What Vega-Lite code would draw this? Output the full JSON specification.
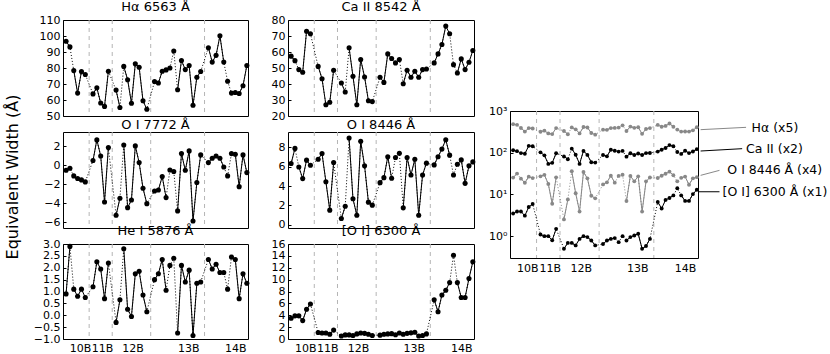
{
  "$schema": "https://vega.github.io/schema/vega-lite/v6.json",
  "background": "white",
  "padding": {"left": 4, "top": 0, "right": 0, "bottom": 0},
  "title": {"text": "Equivalent Width (Å)", "orient": "left", "anchor": "middle", "fontSize": 16, "fontWeight": "normal", "font": "DejaVu Sans", "offset": 12, "color": "black"},
  "datasets": {
    "vl": [{"i": 6}, {"i": 12}, {"i": 22}, {"i": 36}],
    "ann": [
      {"s": "H5", "x": 47.97, "x2": 59.6, "y": 357, "y2": 406, "t": "Hα (x5)", "tx": 61.0, "ty": 392},
      {"s": "C2", "x": 47.97, "x2": 58.6, "y": 110, "y2": 125, "t": "Ca II (x2)", "tx": 59.6, "ty": 123},
      {"s": "O84", "x": 47.97, "x2": 52.8, "y": 28.7, "y2": 37.8, "t": "O I 8446 Å (x4)", "tx": 54.8, "ty": 39.1},
      {"s": "O6", "x": 47.5, "x2": 52.8, "y": 11.6, "y2": 11.6, "t": "[O I] 6300 Å (x1)", "tx": 53.6, "ty": 11.2}
    ],
    "main": [
      {"i": 0, "r": "a", "Ha": 96.7, "Ca": 57.4, "O7": -0.53, "O8": 6.33, "He": 0.9, "O6": 3.5, "H5": 483.5, "C2": 114.8, "O84": 25.32},
      {"i": 1, "r": "a", "Ha": 93.2, "Ca": 54.6, "O7": -0.32, "O8": 7.9, "He": 2.9, "O6": 3.9, "H5": 466, "C2": 109.2, "O84": 31.6},
      {"i": 2, "r": "b", "Ha": 78.4, "Ca": 49, "O7": -1.12, "O8": 5.98, "He": 1.1, "O6": 3.9, "H5": 392, "C2": 98, "O84": 23.92},
      {"i": 3, "r": "b", "Ha": 64.3, "Ca": 47.3, "O7": -1.4, "O8": 4.77, "He": 0.8, "O6": 3.1, "H5": 321.5, "C2": 94.6, "O84": 19.08},
      {"i": 4, "r": "b", "Ha": 77.8, "Ca": 73, "O7": -1.54, "O8": 6.68, "He": 1.1, "O6": 5.0, "H5": 389, "C2": 146, "O84": 26.72},
      {"i": 5, "r": "b", "Ha": 75.9, "Ca": 71.4, "O7": -1.75, "O8": 6.16, "He": 0.75, "O6": 5.9, "H5": 379.5, "C2": 142.8, "O84": 24.64},
      {"i": 7, "r": "c", "Ha": 63.8, "Ca": 51, "O7": 0.5, "O8": 6.78, "He": 1.2, "O6": 1.1, "H5": 319, "C2": 102, "O84": 27.12},
      {"i": 8, "r": "c", "Ha": 67.6, "Ca": 43.3, "O7": 2.67, "O8": 7.37, "He": 2.25, "O6": 1.0, "H5": 338, "C2": 86.6, "O84": 29.48},
      {"i": 9, "r": "c", "Ha": 58.1, "Ca": 27, "O7": 0.98, "O8": 4.45, "He": 1.95, "O6": 1.0, "H5": 290.5, "C2": 54, "O84": 17.8},
      {"i": 10, "r": "c", "Ha": 56, "Ca": 28.6, "O7": -3.86, "O8": 1.5, "He": 0.7, "O6": 0.8, "H5": 280, "C2": 57.2, "O84": 6},
      {"i": 11, "r": "c", "Ha": 78, "Ca": 48.6, "O7": 1.86, "O8": 6.43, "He": 2.2, "O6": 1.5, "H5": 390, "C2": 97.2, "O84": 25.72},
      {"i": 13, "r": "d", "Ha": 66.2, "Ca": 40.6, "O7": -5.26, "O8": 0.63, "He": -0.3, "O6": 0.5, "H5": 331, "C2": 81.2, "O84": 2.52},
      {"i": 14, "r": "d", "Ha": 55.3, "Ca": 35, "O7": -3.47, "O8": 1.9, "He": 0.65, "O6": 0.69, "H5": 276.5, "C2": 70, "O84": 7.6},
      {"i": 15, "r": "e", "Ha": 81, "Ca": 62.6, "O7": 2.14, "O8": 8.97, "He": 2.8, "O6": 0.69, "H5": 405, "C2": 125.2, "O84": 35.88},
      {"i": 16, "r": "e", "Ha": 72.7, "Ca": 44.8, "O7": -4.46, "O8": 2.68, "He": 0.25, "O6": 0.6, "H5": 363.5, "C2": 89.6, "O84": 10.72},
      {"i": 17, "r": "e", "Ha": 58, "Ca": 27, "O7": -3.65, "O8": 0.97, "He": -0.05, "O6": 0.86, "H5": 290, "C2": 54, "O84": 3.88},
      {"i": 18, "r": "e", "Ha": 82.6, "Ca": 55.3, "O7": 2.04, "O8": 8.63, "He": 1.75, "O6": 1.0, "H5": 413, "C2": 110.6, "O84": 34.52},
      {"i": 19, "r": "e", "Ha": 80.5, "Ca": 44.4, "O7": 0.28, "O8": 6.09, "He": 1.85, "O6": 0.95, "H5": 402.5, "C2": 88.8, "O84": 24.36},
      {"i": 20, "r": "e", "Ha": 59.5, "Ca": 29.5, "O7": -2.42, "O8": 2.33, "He": 0.85, "O6": 0.79, "H5": 297.5, "C2": 59, "O84": 9.32},
      {"i": 21, "r": "e", "Ha": 54.2, "Ca": 29, "O7": -4.04, "O8": 2.02, "He": 0.15, "O6": 0.6, "H5": 271, "C2": 58, "O84": 8.08},
      {"i": 23, "r": "f", "Ha": 71.5, "Ca": 44.2, "O7": -2.7, "O8": 4.35, "He": 1.5, "O6": 0.65, "H5": 357.5, "C2": 88.4, "O84": 17.4},
      {"i": 24, "r": "f", "Ha": 70.6, "Ca": 41, "O7": -2.6, "O8": 4.87, "He": 1.75, "O6": 0.79, "H5": 353, "C2": 82, "O84": 19.48},
      {"i": 25, "r": "f", "Ha": 78, "Ca": 58.8, "O7": -1.19, "O8": 7.03, "He": 2.35, "O6": 0.86, "H5": 390, "C2": 117.6, "O84": 28.12},
      {"i": 26, "r": "f", "Ha": 78.8, "Ca": 55.9, "O7": -3.4, "O8": 4.8, "He": 1.05, "O6": 0.9, "H5": 394, "C2": 111.8, "O84": 19.2},
      {"i": 27, "r": "g", "Ha": 80, "Ca": 53.2, "O7": -0.5, "O8": 6.96, "He": 2.1, "O6": 0.72, "H5": 400, "C2": 106.4, "O84": 27.84},
      {"i": 28, "r": "h", "Ha": 90.6, "Ca": 55.3, "O7": -0.65, "O8": 7.4, "He": 2.4, "O6": 1.0, "H5": 453, "C2": 110.6, "O84": 29.6},
      {"i": 29, "r": "i", "Ha": 66.4, "Ca": 40.2, "O7": -4.8, "O8": 1.74, "He": -0.75, "O6": 0.79, "H5": 332, "C2": 80.4, "O84": 6.96},
      {"i": 30, "r": "i", "Ha": 84.7, "Ca": 48.6, "O7": 1.23, "O8": 6.96, "He": 2.1, "O6": 0.95, "H5": 423.5, "C2": 97.2, "O84": 27.84},
      {"i": 31, "r": "i", "Ha": 79, "Ca": 44.2, "O7": -0.53, "O8": 5.15, "He": 1.4, "O6": 1.04, "H5": 395, "C2": 88.4, "O84": 20.6},
      {"i": 32, "r": "i", "Ha": 81.6, "Ca": 48, "O7": 1.51, "O8": 6.78, "He": 1.9, "O6": 1.14, "H5": 408, "C2": 96, "O84": 27.12},
      {"i": 33, "r": "i", "Ha": 56.7, "Ca": 44.2, "O7": -5.86, "O8": 0.97, "He": -0.85, "O6": 0.5, "H5": 283.5, "C2": 88.4, "O84": 3.88},
      {"i": 34, "r": "i", "Ha": 74.2, "Ca": 49, "O7": -1.82, "O8": 5.15, "He": 1.35, "O6": 0.58, "H5": 371, "C2": 98, "O84": 20.6},
      {"i": 35, "r": "i", "Ha": 77.8, "Ca": 49.4, "O7": 1.09, "O8": 6.37, "He": 1.4, "O6": 0.86, "H5": 389, "C2": 98.8, "O84": 25.48},
      {"i": 37, "r": "j", "Ha": 92.7, "Ca": 53.2, "O7": 0.28, "O8": 6.19, "He": 2.35, "O6": 6.6, "H5": 463.5, "C2": 106.4, "O84": 24.76},
      {"i": 38, "r": "j", "Ha": 83.7, "Ca": 58.8, "O7": 0.74, "O8": 7.03, "He": 1.95, "O6": 4.6, "H5": 418.5, "C2": 117.6, "O84": 28.12},
      {"i": 39, "r": "j", "Ha": 87.9, "Ca": 64.7, "O7": 0.98, "O8": 7.83, "He": 2.15, "O6": 7.4, "H5": 439.5, "C2": 129.4, "O84": 31.32},
      {"i": 40, "r": "j", "Ha": 100.1, "Ca": 76.2, "O7": 0.74, "O8": 8.8, "He": 1.8, "O6": 8.2, "H5": 500.5, "C2": 152.4, "O84": 35.2},
      {"i": 41, "r": "j", "Ha": 83.7, "Ca": 71.4, "O7": -0.18, "O8": 7.2, "He": 1.8, "O6": 9.5, "H5": 418.5, "C2": 142.8, "O84": 28.8},
      {"i": 42, "r": "k", "Ha": 71.7, "Ca": 52.1, "O7": -1.12, "O8": 5.15, "He": 1.1, "O6": 14.1, "H5": 358.5, "C2": 104.2, "O84": 20.6},
      {"i": 43, "r": "l", "Ha": 64.3, "Ca": 46.9, "O7": 1.23, "O8": 6.26, "He": 2.45, "O6": 9.5, "H5": 321.5, "C2": 93.8, "O84": 25.04},
      {"i": 44, "r": "l", "Ha": 64.7, "Ca": 55.7, "O7": 1.16, "O8": 6.71, "He": 2.35, "O6": 7.0, "H5": 323.5, "C2": 111.4, "O84": 26.84},
      {"i": 45, "r": "l", "Ha": 64.1, "Ca": 49, "O7": -2.25, "O8": 4.28, "He": 0.7, "O6": 7.0, "H5": 320.5, "C2": 98, "O84": 17.12},
      {"i": 46, "r": "l", "Ha": 68.9, "Ca": 53.6, "O7": 1.09, "O8": 6.09, "He": 1.75, "O6": 10.2, "H5": 344.5, "C2": 107.2, "O84": 24.36},
      {"i": 47, "r": "l", "Ha": 81.6, "Ca": 60.9, "O7": -0.77, "O8": 6.5, "He": 1.35, "O6": 13.0, "H5": 408, "C2": 121.8, "O84": 26}
    ]
  },
  "hconcat": [
    {
      "concat": [
        {
          "width": 185, "height": 96, "title": {"text": "Hα 6563 Å", "fontWeight": "normal", "offset": 0},
          "layer": [
            {"data": {"name": "vl"}, "mark": {"type": "rule", "color": "#b5b5b5", "strokeDash": [4, 4], "strokeWidth": 1}, "encoding": {"x": {"field": "i", "type": "quantitative", "scale": {"domain": [-0.8, 47.3], "nice": false, "zero": false}, "axis": null}}},
            {"data": {"name": "main"}, "mark": {"type": "line", "color": "black", "strokeWidth": 1, "strokeDash": [1, 2]}, "encoding": {"x": {"field": "i", "type": "quantitative", "axis": null}, "y": {"field": "Ha", "type": "quantitative", "title": null, "scale": {"domain": [50, 110], "nice": false, "zero": false}, "axis": {"values": [50, 60, 70, 80, 90, 100, 110], "labelOverlap": false}}, "order": {"field": "i"}}},
            {"data": {"name": "main"}, "mark": {"type": "line", "color": "black", "strokeWidth": 1}, "encoding": {"x": {"field": "i", "type": "quantitative", "axis": null}, "y": {"field": "Ha", "type": "quantitative", "axis": {"values": [50, 60, 70, 80, 90, 100, 110], "labelOverlap": false}}, "detail": {"field": "r"}, "order": {"field": "i"}}},
            {"data": {"name": "main"}, "mark": {"type": "circle", "color": "black", "size": 26, "opacity": 1}, "encoding": {"x": {"field": "i", "type": "quantitative", "axis": null}, "y": {"field": "Ha", "type": "quantitative", "axis": {"values": [50, 60, 70, 80, 90, 100, 110], "labelOverlap": false}}}}
          ]
        },
        {
          "width": 186, "height": 96, "title": {"text": "Ca II 8542 Å", "fontWeight": "normal", "offset": 0},
          "layer": [
            {"data": {"name": "vl"}, "mark": {"type": "rule", "color": "#b5b5b5", "strokeDash": [4, 4], "strokeWidth": 1}, "encoding": {"x": {"field": "i", "type": "quantitative", "scale": {"domain": [-0.8, 47.3], "nice": false, "zero": false}, "axis": null}}},
            {"data": {"name": "main"}, "mark": {"type": "line", "color": "black", "strokeWidth": 1, "strokeDash": [1, 2]}, "encoding": {"x": {"field": "i", "type": "quantitative", "axis": null}, "y": {"field": "Ca", "type": "quantitative", "title": null, "scale": {"domain": [20, 80], "nice": false, "zero": false}, "axis": {"values": [20, 30, 40, 50, 60, 70, 80], "labelOverlap": false}}, "order": {"field": "i"}}},
            {"data": {"name": "main"}, "mark": {"type": "line", "color": "black", "strokeWidth": 1}, "encoding": {"x": {"field": "i", "type": "quantitative", "axis": null}, "y": {"field": "Ca", "type": "quantitative", "axis": {"values": [20, 30, 40, 50, 60, 70, 80], "labelOverlap": false}}, "detail": {"field": "r"}, "order": {"field": "i"}}},
            {"data": {"name": "main"}, "mark": {"type": "circle", "color": "black", "size": 26, "opacity": 1}, "encoding": {"x": {"field": "i", "type": "quantitative", "axis": null}, "y": {"field": "Ca", "type": "quantitative", "axis": {"values": [20, 30, 40, 50, 60, 70, 80], "labelOverlap": false}}}}
          ]
        },
        {
          "width": 185, "height": 96, "title": {"text": "O I 7772 Å", "fontWeight": "normal", "offset": 0},
          "layer": [
            {"data": {"name": "vl"}, "mark": {"type": "rule", "color": "#b5b5b5", "strokeDash": [4, 4], "strokeWidth": 1}, "encoding": {"x": {"field": "i", "type": "quantitative", "scale": {"domain": [-0.8, 47.3], "nice": false, "zero": false}, "axis": null}}},
            {"data": {"name": "main"}, "mark": {"type": "line", "color": "black", "strokeWidth": 1, "strokeDash": [1, 2]}, "encoding": {"x": {"field": "i", "type": "quantitative", "axis": null}, "y": {"field": "O7", "type": "quantitative", "title": null, "scale": {"domain": [-6.6, 3.5], "nice": false, "zero": false}, "axis": {"values": [-6, -4, -2, 0, 2], "labelOverlap": false}}, "order": {"field": "i"}}},
            {"data": {"name": "main"}, "mark": {"type": "line", "color": "black", "strokeWidth": 1}, "encoding": {"x": {"field": "i", "type": "quantitative", "axis": null}, "y": {"field": "O7", "type": "quantitative", "axis": {"values": [-6, -4, -2, 0, 2], "labelOverlap": false}}, "detail": {"field": "r"}, "order": {"field": "i"}}},
            {"data": {"name": "main"}, "mark": {"type": "circle", "color": "black", "size": 26, "opacity": 1}, "encoding": {"x": {"field": "i", "type": "quantitative", "axis": null}, "y": {"field": "O7", "type": "quantitative", "axis": {"values": [-6, -4, -2, 0, 2], "labelOverlap": false}}}}
          ]
        },
        {
          "width": 186, "height": 96, "title": {"text": "O I 8446 Å", "fontWeight": "normal", "offset": 0},
          "layer": [
            {"data": {"name": "vl"}, "mark": {"type": "rule", "color": "#b5b5b5", "strokeDash": [4, 4], "strokeWidth": 1}, "encoding": {"x": {"field": "i", "type": "quantitative", "scale": {"domain": [-0.8, 47.3], "nice": false, "zero": false}, "axis": null}}},
            {"data": {"name": "main"}, "mark": {"type": "line", "color": "black", "strokeWidth": 1, "strokeDash": [1, 2]}, "encoding": {"x": {"field": "i", "type": "quantitative", "axis": null}, "y": {"field": "O8", "type": "quantitative", "title": null, "scale": {"domain": [-0.35, 9.6], "nice": false, "zero": false}, "axis": {"values": [0, 2, 4, 6, 8], "labelOverlap": false}}, "order": {"field": "i"}}},
            {"data": {"name": "main"}, "mark": {"type": "line", "color": "black", "strokeWidth": 1}, "encoding": {"x": {"field": "i", "type": "quantitative", "axis": null}, "y": {"field": "O8", "type": "quantitative", "axis": {"values": [0, 2, 4, 6, 8], "labelOverlap": false}}, "detail": {"field": "r"}, "order": {"field": "i"}}},
            {"data": {"name": "main"}, "mark": {"type": "circle", "color": "black", "size": 26, "opacity": 1}, "encoding": {"x": {"field": "i", "type": "quantitative", "axis": null}, "y": {"field": "O8", "type": "quantitative", "axis": {"values": [0, 2, 4, 6, 8], "labelOverlap": false}}}}
          ]
        },
        {
          "width": 185, "height": 95, "title": {"text": "He I 5876 Å", "fontWeight": "normal", "offset": 0},
          "layer": [
            {"data": {"name": "vl"}, "mark": {"type": "rule", "color": "#b5b5b5", "strokeDash": [4, 4], "strokeWidth": 1}, "encoding": {"x": {"field": "i", "type": "quantitative", "scale": {"domain": [-0.8, 47.3], "nice": false, "zero": false}, "title": null, "axis": {"values": [3.64, 9.35, 17.3, 31.75, 44], "labelPadding": 3, "labelOverlap": false, "labelExpr": "datum.value < 5 ? '10B' : datum.value < 12 ? '11B' : datum.value < 20 ? '12B' : datum.value < 35 ? '13B' : '14B'"}}}},
            {"data": {"name": "main"}, "mark": {"type": "line", "color": "black", "strokeWidth": 1, "strokeDash": [1, 2]}, "encoding": {"x": {"field": "i", "type": "quantitative", "title": null, "axis": {"values": [3.64, 9.35, 17.3, 31.75, 44], "labelPadding": 3, "labelOverlap": false, "labelExpr": "datum.value < 5 ? '10B' : datum.value < 12 ? '11B' : datum.value < 20 ? '12B' : datum.value < 35 ? '13B' : '14B'"}}, "y": {"field": "He", "type": "quantitative", "title": null, "scale": {"domain": [-1, 3], "nice": false, "zero": false}, "axis": {"values": [-1, -0.5, 0, 0.5, 1, 1.5, 2, 2.5, 3], "format": ".1f", "labelOverlap": false}}, "order": {"field": "i"}}},
            {"data": {"name": "main"}, "mark": {"type": "line", "color": "black", "strokeWidth": 1}, "encoding": {"x": {"field": "i", "type": "quantitative", "title": null, "axis": {"values": [3.64, 9.35, 17.3, 31.75, 44], "labelPadding": 3, "labelOverlap": false, "labelExpr": "datum.value < 5 ? '10B' : datum.value < 12 ? '11B' : datum.value < 20 ? '12B' : datum.value < 35 ? '13B' : '14B'"}}, "y": {"field": "He", "type": "quantitative", "title": null, "axis": {"values": [-1, -0.5, 0, 0.5, 1, 1.5, 2, 2.5, 3], "format": ".1f", "labelOverlap": false}}, "detail": {"field": "r"}, "order": {"field": "i"}}},
            {"data": {"name": "main"}, "mark": {"type": "circle", "color": "black", "size": 26, "opacity": 1}, "encoding": {"x": {"field": "i", "type": "quantitative", "title": null, "axis": {"values": [3.64, 9.35, 17.3, 31.75, 44], "labelPadding": 3, "labelOverlap": false, "labelExpr": "datum.value < 5 ? '10B' : datum.value < 12 ? '11B' : datum.value < 20 ? '12B' : datum.value < 35 ? '13B' : '14B'"}}, "y": {"field": "He", "type": "quantitative", "title": null, "axis": {"values": [-1, -0.5, 0, 0.5, 1, 1.5, 2, 2.5, 3], "format": ".1f", "labelOverlap": false}}}}
          ]
        },
        {
          "width": 186, "height": 95, "title": {"text": "[O I] 6300 Å", "fontWeight": "normal", "offset": 0},
          "layer": [
            {"data": {"name": "vl"}, "mark": {"type": "rule", "color": "#b5b5b5", "strokeDash": [4, 4], "strokeWidth": 1}, "encoding": {"x": {"field": "i", "type": "quantitative", "scale": {"domain": [-0.8, 47.3], "nice": false, "zero": false}, "title": null, "axis": {"values": [3.64, 9.35, 17.3, 31.75, 44], "labelPadding": 3, "labelOverlap": false, "labelExpr": "datum.value < 5 ? '10B' : datum.value < 12 ? '11B' : datum.value < 20 ? '12B' : datum.value < 35 ? '13B' : '14B'"}}}},
            {"data": {"name": "main"}, "mark": {"type": "line", "color": "black", "strokeWidth": 1, "strokeDash": [1, 2]}, "encoding": {"x": {"field": "i", "type": "quantitative", "title": null, "axis": {"values": [3.64, 9.35, 17.3, 31.75, 44], "labelPadding": 3, "labelOverlap": false, "labelExpr": "datum.value < 5 ? '10B' : datum.value < 12 ? '11B' : datum.value < 20 ? '12B' : datum.value < 35 ? '13B' : '14B'"}}, "y": {"field": "O6", "type": "quantitative", "title": null, "scale": {"domain": [0, 16], "nice": false, "zero": false}, "axis": {"values": [0, 2, 4, 6, 8, 10, 12, 14, 16], "labelOverlap": false}}, "order": {"field": "i"}}},
            {"data": {"name": "main"}, "mark": {"type": "line", "color": "black", "strokeWidth": 1}, "encoding": {"x": {"field": "i", "type": "quantitative", "title": null, "axis": {"values": [3.64, 9.35, 17.3, 31.75, 44], "labelPadding": 3, "labelOverlap": false, "labelExpr": "datum.value < 5 ? '10B' : datum.value < 12 ? '11B' : datum.value < 20 ? '12B' : datum.value < 35 ? '13B' : '14B'"}}, "y": {"field": "O6", "type": "quantitative", "title": null, "axis": {"values": [0, 2, 4, 6, 8, 10, 12, 14, 16], "labelOverlap": false}}, "detail": {"field": "r"}, "order": {"field": "i"}}},
            {"data": {"name": "main"}, "mark": {"type": "circle", "color": "black", "size": 26, "opacity": 1}, "encoding": {"x": {"field": "i", "type": "quantitative", "title": null, "axis": {"values": [3.64, 9.35, 17.3, 31.75, 44], "labelPadding": 3, "labelOverlap": false, "labelExpr": "datum.value < 5 ? '10B' : datum.value < 12 ? '11B' : datum.value < 20 ? '12B' : datum.value < 35 ? '13B' : '14B'"}}, "y": {"field": "O6", "type": "quantitative", "title": null, "axis": {"values": [0, 2, 4, 6, 8, 10, 12, 14, 16], "labelOverlap": false}}}}
          ]
        }
      ],
      "columns": 2,
      "bounds": "flush",
      "spacing": {"row": 16, "column": 40}
    },
    {
      "vconcat": [
        {"width": 188, "height": 84, "data": {"values": []}, "mark": "point", "view": {"stroke": null}},
        {
          "width": 188, "height": 147,
          "layer": [
            {"data": {"name": "vl"}, "mark": {"type": "rule", "color": "#b5b5b5", "strokeDash": [4, 4], "strokeWidth": 1}, "encoding": {"x": {"field": "i", "type": "quantitative", "scale": {"domain": [-0.8, 47.3], "nice": false, "zero": false}, "title": null, "axis": {"values": [3.64, 9.35, 17.3, 31.75, 44], "labelPadding": 4, "labelOverlap": false, "labelExpr": "datum.value < 5 ? '10B' : datum.value < 12 ? '11B' : datum.value < 20 ? '12B' : datum.value < 35 ? '13B' : '14B'"}}}},
            {"data": {"name": "main"}, "transform": [{"fold": ["H5", "C2", "O84", "O6"], "as": ["s", "lv"]}], "mark": {"type": "line", "strokeWidth": 1, "strokeDash": [1, 2]}, "encoding": {"x": {"field": "i", "type": "quantitative"}, "y": {"field": "lv", "type": "quantitative", "title": null, "scale": {"type": "log", "domain": [0.3, 1000], "nice": false}, "axis": {"values": [1, 10, 100, 1000], "labelOverlap": false, "labelExpr": "datum.value == 1 ? '10⁰' : datum.value == 10 ? '10¹' : datum.value == 100 ? '10²' : '10³'"}}, "color": {"field": "s", "type": "nominal", "scale": {"domain": ["H5", "C2", "O84", "O6"], "range": ["#888888", "#000000", "#888888", "#000000"]}, "legend": null}, "order": {"field": "i"}}},
            {"data": {"name": "main"}, "transform": [{"fold": ["H5", "C2", "O84", "O6"], "as": ["s", "lv"]}], "mark": {"type": "line", "strokeWidth": 1}, "encoding": {"x": {"field": "i", "type": "quantitative"}, "y": {"field": "lv", "type": "quantitative"}, "color": {"field": "s", "type": "nominal"}, "detail": {"field": "r"}, "order": {"field": "i"}}},
            {"data": {"name": "main"}, "transform": [{"fold": ["H5", "C2", "O84", "O6"], "as": ["s", "lv"]}], "mark": {"type": "circle", "size": 15, "opacity": 1}, "encoding": {"x": {"field": "i", "type": "quantitative"}, "y": {"field": "lv", "type": "quantitative"}, "color": {"field": "s", "type": "nominal"}}},
            {"data": {"name": "ann"}, "mark": {"type": "rule", "strokeWidth": 1}, "encoding": {"x": {"field": "x", "type": "quantitative"}, "x2": {"field": "x2"}, "y": {"field": "y", "type": "quantitative"}, "y2": {"field": "y2"}, "color": {"field": "s", "type": "nominal"}}},
            {"data": {"name": "ann"}, "mark": {"type": "text", "align": "left", "baseline": "middle", "fontSize": 12.5, "font": "DejaVu Sans", "color": "black"}, "encoding": {"x": {"field": "tx", "type": "quantitative"}, "y": {"field": "ty", "type": "quantitative"}, "text": {"field": "t"}}}
          ]
        }
      ],
      "spacing": 0
    }
  ],
  "spacing": 12,
  "config": {
    "view": {"stroke": "black", "strokeWidth": 1},
    "font": "DejaVu Sans",
    "axis": {"grid": false, "domain": false, "ticks": false, "labelFontSize": 11, "labelColor": "black", "labelPadding": 3, "labelFont": "DejaVu Sans", "labelOverlap": false},
    "axisY": {"ticks": true, "tickSize": -3, "tickColor": "black", "tickWidth": 1, "labelPadding": 6},
    "title": {"font": "DejaVu Sans", "fontSize": 13, "fontWeight": "normal", "offset": 0, "color": "black"}
  }
}
